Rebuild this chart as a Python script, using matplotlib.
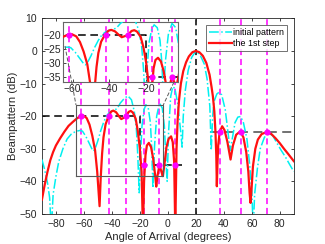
import numpy as np
import matplotlib
matplotlib.use("Agg")
import matplotlib.pyplot as plt
from matplotlib.lines import Line2D

plt.rcParams["font.family"] = ["Liberation Sans", "DejaVu Sans"]

# initial pattern (cyan)
init_ang = [-90, -88, -86, -84.5, -83.3, -82, -80, -78, -75, -72, -69, -66, -63, -61,
            -58.5, -56, -54, -53, -52, -50, -48, -46, -44, -42, -40, -38, -36, -34,
            -31, -28.5, -26, -24, -22.5, -21.5, -20.5, -19.5, -18.5, -17, -15.7, -14,
            -12.5, -11.5, -10.7, -9.5, -8, -6, -4, -2.5, -1.2, -0.5, 0.5, 2, 3.5, 5,
            7, 9, 10.2, 11, 12.5, 14.5, 17, 20, 23, 26, 28, 30, 31, 32, 33, 35, 36.5,
            38.5, 41, 43, 44.5, 46, 48, 50, 52, 54, 56.5, 58.5, 60, 61, 62, 64, 66,
            69, 72, 75, 78, 81, 84, 87, 90]
init_db = [-33.3, -36.5, -40.5, -45, -55, -44, -38.5, -34, -30, -27, -25.5, -24.7,
           -24.4, -24.6, -26.3, -28.5, -30.3, -30.7, -30.0, -27.5, -24.5, -22, -20,
           -19, -18.4, -18.2, -17.5, -16, -14.5, -13.8, -15, -18.5, -24, -32, -43.5,
           -32, -23, -18, -16.5, -17.5, -22, -30, -42, -29, -20, -16, -17.5, -23, -35,
           -40, -25, -14, -11, -11.5, -16, -24, -29.5, -20, -12, -6, -2, 0, -1.2, -4,
           -8.5, -17, -30.5, -20, -15.5, -13.2, -12.7, -13.5, -18, -25, -30.5, -27,
           -22, -20.3, -20.1, -22, -27, -35, -43, -55, -44, -36, -30, -26.5, -25.2,
           -26, -28.3, -30.5, -32.5, -34.8, -37]

# after the 1st step (red)
step_ang = [-90, -88, -86, -84, -82, -80, -77, -74, -71, -68, -65, -62.4, -60.5, -58,
            -56, -54, -52, -50.5, -48.8, -48, -47, -46, -44.5, -42.4, -40.5, -39, -37,
            -35, -33.3, -31.5, -29.8, -28, -26.5, -25, -23, -21.5, -20, -18.8, -17.8,
            -17, -16, -15, -13.6, -12, -10.5, -9, -8.3, -7.5, -6, -4.5, -3.6, -2.5, -1,
            0.5, 2.3, 3.5, 4.5, 5.3, 6.2, 7, 8, 9.3, 11, 13, 15, 17.5, 20, 22.5, 25,
            27.5, 29.8, 31.2, 32.2, 33.2, 34, 34.6, 35, 35.5, 36, 37, 38.8, 40.5, 42.5,
            44.8, 46.5, 48.8, 51.7, 54, 56, 57.5, 58.4, 59.1, 60, 60.8, 62.5, 64.3, 67,
            71, 74, 77, 80, 83, 86, 90]
step_db = [-45.6, -41, -37, -33.5, -31, -29, -26.8, -24.8, -23, -21.8, -20.7, -20,
           -19.8, -20.6, -22.6, -26, -30.5, -37, -47.6, -39, -31.5, -26.5, -22.5, -20,
           -18.6, -18.3, -18.8, -20, -20.9, -20.5, -20, -18.7, -18.4, -18.9, -20.8,
           -24.5, -30, -37, -55, -40, -32, -29, -28.2, -29.5, -33, -38.5, -41.6, -38.5,
           -35, -37.2, -38.4, -35, -29.5, -27, -26.2, -28, -34, -55, -30, -21, -15,
           -10, -6.2, -3.5, -1.7, -0.4, 0, -0.4, -1.5, -3.7, -7.3, -11, -14, -18.5,
           -24.7, -32, -41.5, -34, -28.8, -25, -23.1, -24.3, -27.8, -33.3, -29, -25.7,
           -24.7, -26.5, -31, -37, -43.5, -46.6, -41, -35.4, -30, -27.2, -25.5, -24.8,
           -25.5, -26.8, -28.3, -30, -31.6, -33.8]

# constraint directions and levels
cons_ang = [-62, -42, -30, -17, -6, 5, 37, 52, 71]
cons_db = [-20, -20, -20, -35, -35, -35, -25, -25, -25]
mask_l_ang = [-90, -20, -20, 10]
mask_l_db = [-20, -20, -35, -35]
mask_r_ang = [30, 90]
mask_r_db = [-25, -25]
look_ang = 20

AXC = "#262626"


def draw(ax):
    for a in cons_ang:
        ax.axvline(a, color="#ff00ff", ls=(0, (4, 2.5)), lw=1.1, zorder=1)
    ax.axvline(look_ang, color="k", ls=(0, (4, 2.5)), lw=1.1, zorder=1)
    ax.plot(mask_l_ang, mask_l_db, color="k", ls=(0, (5, 3)), lw=1.1, zorder=2)
    ax.plot(mask_r_ang, mask_r_db, color="0.4", ls=(0, (5, 3)), lw=1.3, zorder=2)
    l1, = ax.plot(init_ang, init_db, color="#00f0f0", ls="-.", lw=1.1, zorder=3,
                  label="initial pattern")
    l2, = ax.plot(step_ang, step_db, color="#ff1010", lw=1.6, zorder=4,
                  label="the 1st step")
    ax.plot(cons_ang, cons_db, "o", color="#ff00ff", ms=4.5, mew=0, zorder=5)
    ax.tick_params(direction="in", length=2.5, width=0.6, colors=AXC,
                   labelsize=7.5, top=True, right=True)
    for sp in ax.spines.values():
        sp.set_color(AXC)
        sp.set_linewidth(0.6)
    return l1, l2


fig = plt.figure(figsize=(3.25, 2.44), dpi=100)
ax = fig.add_axes([0.129, 0.123, 0.775, 0.802])
l1, l2 = draw(ax)
ax.set_xlim(-90, 90)
ax.set_ylim(-50, 10)
ax.set_xticks(range(-80, 81, 20))
ax.set_yticks(range(-50, 11, 10))
ax.set_xlabel("Angle of Arrival (degrees)", fontsize=8, color=AXC, labelpad=2)
ax.set_ylabel("Beampattern (dB)", fontsize=8, color=AXC, labelpad=1)

# zoom box on the main axes
rx0, rx1, ry0, ry1 = -66, -3.6, -38.2, -16.6
ax.plot([rx0, rx1, rx1, rx0, rx0], [ry0, ry0, ry1, ry1, ry0], color="0.35",
        lw=0.8, zorder=6)

leg = ax.legend(handles=[l1, l2], loc="upper right", bbox_to_anchor=(0.972, 0.966),
                borderaxespad=0, fontsize=6.4, frameon=True, fancybox=False,
                handlelength=2.6, handletextpad=0.15, borderpad=0.3,
                labelspacing=0.25)
leg.get_frame().set_edgecolor("0.3")
leg.get_frame().set_linewidth(0.7)

# inset
axi = fig.add_axes([0.195, 0.665, 0.354, 0.246])
draw(axi)
axi.set_xlim(-65, -2.5)
axi.set_ylim(-36.7, -15.4)
axi.set_xticks([-60, -40, -20])
axi.set_yticks([-35, -30, -25, -20])
axi.tick_params(top=False, right=False, pad=1.5)
for sp in axi.spines.values():
    sp.set_color("0.4")
    sp.set_linewidth(0.8)

# connector lines from the box to the inset (pixel coords of the figure)
W, H = 325, 244
for (x0, y0), (x1, y1) in [((65, 46), (76, 105)), ((174, 82), (163.3, 105))]:
    fig.add_artist(Line2D([x0 / W, x1 / W], [1 - y0 / H, 1 - y1 / H],
                          color="0.35", lw=0.7, ls=(0, (4, 2)), zorder=10))

fig.savefig("out.png", dpi=100)
